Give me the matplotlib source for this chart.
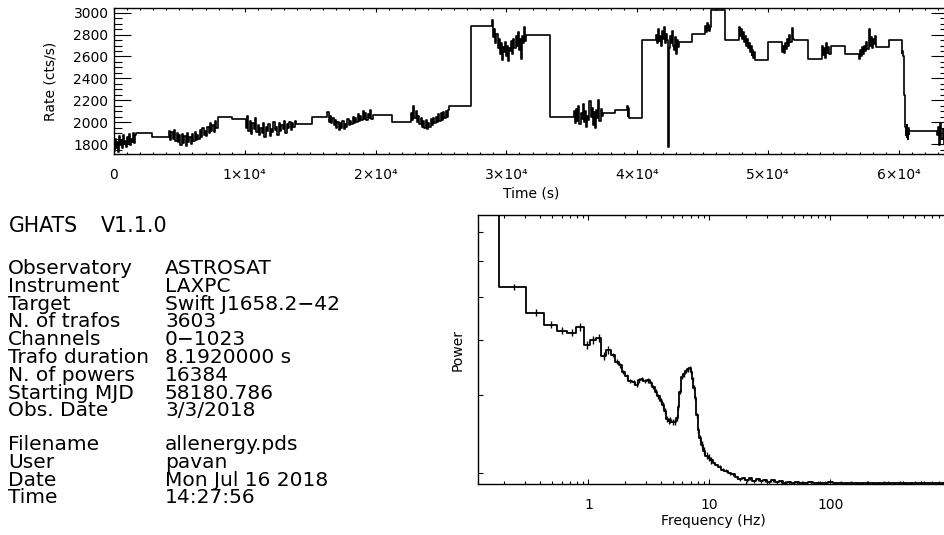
import numpy as np
import matplotlib
matplotlib.use('Agg')
from matplotlib import pyplot as plt
from matplotlib.ticker import MultipleLocator, FixedLocator, NullFormatter, FuncFormatter, LogLocator

# ---- light curve: good time intervals (s) and the rates inside each (cts/s)
seg_start = [0, 4150, 10015, 16260, 22630, 28875, 35115, 39200, 41360,
             45180, 47780, 51000, 54050, 56900, 60200, 62900]
seg_stop = [1735, 7970, 13967, 19825, 25690, 31550, 37410, 39400, 43270,
            45640, 49060, 52010, 54915, 58310, 60800, 63700]
seg_rates = [
    [1780, 1740, 1850, 1760, 1820, 1730, 1870, 1790, 1840, 1760, 1880, 1800,
     1830, 1770, 1860, 1810, 1890, 1790, 1850, 1820, 1900, 1810, 1880, 1903],
    [1862, 1920, 1840, 1910, 1850, 1930, 1830, 1900, 1820, 1880, 1790, 1890,
     1810, 1870, 1780, 1900, 1820, 1860, 1800, 1890, 1830, 1910, 1840, 1880,
     1850, 1930, 1860, 1950, 1880, 1920, 1870, 1960, 1900, 1990, 1920, 1970,
     1910, 2010, 1950, 2044],
    [2026, 1950, 2060, 1920, 2010, 1890, 1990, 1940, 2040, 1910, 1970, 1880,
     1950, 1900, 1990, 1860, 1960, 1920, 1980, 1870, 1940, 1910, 2000, 1930,
     1960, 1880, 1990, 1920, 1970, 1940, 2010, 1900, 1980, 1950, 2000, 1930,
     1990, 1960, 2010, 1983],
    [2049, 2090, 2000, 2060, 1990, 2040, 1970, 2020, 1950, 2000, 1930, 1990,
     1950, 2010, 1940, 1980, 1960, 2030, 1970, 2010, 1980, 2050, 1990, 2040,
     2000, 2070, 2010, 2060, 2020, 2100, 2030, 2080, 2020, 2070, 2040, 2110,
     2030, 2065],
    [2004, 2080, 2020, 2150, 2040, 2100, 2000, 2060, 1980, 2040, 1960, 2010,
     1950, 2020, 1940, 1990, 1960, 2030, 1970, 2040, 1990, 2050, 2000, 2070,
     2010, 2080, 2020, 2090, 2040, 2100, 2050, 2110, 2147],
    [2875, 2930, 2780, 2850, 2720, 2810, 2680, 2760, 2620, 2720, 2570, 2690,
     2640, 2730, 2600, 2700, 2560, 2680, 2650, 2740, 2620, 2760, 2680, 2790,
     2700, 2820, 2660, 2760, 2580, 2790, 2720, 2870, 2740, 2800],
    [2049, 2100, 1990, 2120, 2010, 2150, 1980, 2080, 2030, 2170, 2000, 2100,
     1960, 2060, 2020, 2190, 2050, 2130, 1970, 2090, 1950, 2110, 2040, 2200,
     2010, 2120, 2060, 2080],
    [2110, 2150, 2060, 2130, 2040],
    [2748, 2800, 2720, 2850, 2740, 2790, 2700, 2830, 2760, 2870, 2720, 2810,
     2750, 1776, 2680, 2790, 2720, 2830, 2700, 2660, 2780, 2620, 2750, 2690,
     2733],
    [2809, 2880, 2820, 2910, 2840, 2890, 2830, 2870, 3021],
    [2748, 2870, 2790, 2850, 2760, 2820, 2730, 2790, 2700, 2760, 2680, 2720,
     2640, 2700, 2610, 2660, 2590, 2640, 2566],
    [2733, 2640, 2700, 2630, 2720, 2670, 2760, 2700, 2800, 2730, 2860, 2760,
     2748],
    [2581, 2700, 2610, 2680, 2590, 2720, 2630, 2690, 2620, 2700, 2693],
    [2627, 2580, 2660, 2600, 2690, 2620, 2700, 2650, 2730, 2670, 2850, 2700,
     2780, 2680, 2760, 2710, 2790, 2687],
    [2748, 2660, 2630, 2650, 2610, 2600, 2450, 2250, 2080, 1990, 1960, 1880,
     1940, 1860, 1970, 1900, 1850, 1950, 1890, 1922],
    [1922, 1880, 1960, 1790, 1990, 1850, 1940, 1800, 2040, 1870, 1950],
]

# ---- power density spectrum (Leahy normalised)
freq = [0.122, 0.244, 0.366, 0.488, 0.610, 0.732, 0.854, 0.977, 1.099, 1.221,
        1.343, 1.465, 1.60, 1.72, 1.84, 1.95, 2.08, 2.21, 2.36, 2.51, 2.64,
        2.76, 2.94, 3.13, 3.29, 3.45, 3.62, 3.79, 3.98, 4.17, 4.31, 4.45,
        4.60, 4.74, 4.97, 5.21, 5.38, 5.55, 5.74, 5.92, 6.17, 6.42, 6.67,
        6.93, 7.12, 7.30, 7.46, 7.63, 7.87, 8.12, 8.39, 8.67, 9.08, 9.5,
        9.95, 10.4, 10.95, 11.5, 12.2, 12.9, 13.8, 14.7, 15.7, 16.8, 17.9,
        19.2, 20.5, 21.9, 23.5, 25.2, 27.0, 29.0, 31.2, 33.6, 36.2, 39.0,
        42.0, 45.3, 49, 53, 58, 63, 69, 76, 83, 91, 100, 110, 122, 135, 150,
        166, 184, 204, 226, 250, 277, 307, 340, 377, 418, 463, 513, 569, 631,
        699, 775, 859, 952]
power = [20.0, 5.26, 4.60, 4.32, 4.19, 4.15, 4.27, 3.89, 3.99, 4.03,
         3.68, 3.80, 3.70, 3.57, 3.50, 3.38, 3.31, 3.23, 3.21, 3.17, 3.24,
         3.26, 3.23, 3.24, 3.19, 3.13, 3.05, 2.98, 2.91, 2.85, 2.76, 2.65,
         2.62, 2.64, 2.61, 2.61, 2.66, 2.82, 3.05, 3.30, 3.34, 3.40, 3.43,
         3.45, 3.38, 3.26, 3.12, 2.96, 2.70, 2.50, 2.40, 2.32, 2.25, 2.19,
         2.17, 2.14, 2.11, 2.09, 2.07, 2.04, 2.03, 2.00, 1.99, 1.96, 1.94,
         1.95, 1.93, 1.95, 1.92, 1.94, 1.92, 1.93, 1.91, 1.93, 1.91, 1.92,
         1.905, 1.91, 1.90, 1.91, 1.905, 1.90, 1.91, 1.90, 1.905, 1.90, 1.91,
         1.90, 1.905, 1.90, 1.905, 1.90, 1.90, 1.905, 1.90, 1.90, 1.905,
         1.90, 1.90, 1.905, 1.90, 1.90, 1.90, 1.905, 1.90, 1.90, 1.90, 1.90,
         1.90]
power_err = [0.5] + [0.08] * 11 + [0.04] * 44 + [0.015] * 53

info_keys = ['Observatory', 'Instrument', 'Target', 'N. of trafos', 'Channels',
             'Trafo duration', 'N. of powers', 'Starting MJD', 'Obs. Date']
info_vals = ['ASTROSAT', 'LAXPC', 'Swift J1658.2\u221242', '3603', '0\u22121023',
             '8.1920000 s', '16384', '58180.786', '3/3/2018']
run_keys = ['Filename', 'User', 'Date', 'Time']
run_vals = ['allenergy.pds', 'pavan', 'Mon Jul 16 2018', '14:27:56']

W, H = 944, 535
fig = plt.figure(figsize=(W / 100, H / 100), dpi=100)
fig.patch.set_facecolor('white')


def axes_px(left, top, right, bottom):
    # place an axes from pixel edges
    return fig.add_axes([left / W, 1 - bottom / H, (right - left) / W, (bottom - top) / H])


# light curve panel
ax = axes_px(114, 7.8, 948, 154)
t = np.concatenate([np.linspace(a, b, len(r)) for a, b, r in zip(seg_start, seg_stop, seg_rates)])
rate = np.concatenate([np.asarray(r, float) for r in seg_rates])
ax.step(t, rate, where='mid', color='k', lw=1.2)
ax.set_xlim(0, 63760)
ax.set_ylim(1709, 3045)
ax.xaxis.set_major_locator(MultipleLocator(10000))
ax.xaxis.set_minor_locator(MultipleLocator(1000))
ax.yaxis.set_major_locator(MultipleLocator(200))
ax.yaxis.set_minor_locator(MultipleLocator(50))
ax.xaxis.set_major_formatter(FuncFormatter(
    lambda v, p: '0' if v == 0 else '%d\u00d710\u2074' % round(v / 1e4)))
ax.tick_params(axis='both', which='both', direction='in', top=True, right=True,
               labelsize=10, width=0.8, colors='k')
ax.tick_params(axis='y', which='major', length=11.9, pad=4)
ax.tick_params(axis='y', which='minor', length=6)
ax.tick_params(axis='x', which='major', length=2.6, pad=10)
ax.tick_params(axis='x', which='minor', length=1.4)
ax.set_xlabel('Time (s)', fontsize=10, labelpad=3)
ax.set_ylabel('Rate (cts/s)', fontsize=10, labelpad=11)
for s in ax.spines.values():
    s.set_linewidth(1.0)

# power spectrum panel
ap = axes_px(478, 215, 950, 484.3)
ap.step(freq, power, where='mid', color='k', lw=1.3)
ap.errorbar(freq, power, yerr=power_err, fmt='none', ecolor='k', elinewidth=1.0, capsize=0)
ap.set_xscale('log')
ap.set_yscale('log')
ap.set_xlim(0.122, 980)
ap.set_ylim(1.89, 7.63)
ap.xaxis.set_major_locator(FixedLocator([1, 10, 100]))
ap.xaxis.set_minor_locator(LogLocator(base=10, subs=np.arange(2, 10)))
ap.xaxis.set_major_formatter(FuncFormatter(lambda v, p: '%g' % v))
ap.xaxis.set_minor_formatter(NullFormatter())
ap.yaxis.set_major_locator(FixedLocator([2, 3, 4, 5, 6, 7]))
ap.yaxis.set_minor_locator(FixedLocator([]))
ap.yaxis.set_major_formatter(NullFormatter())
ap.tick_params(axis='both', which='both', direction='in', top=True, right=True,
               labelsize=10, width=0.8, colors='k')
ap.tick_params(axis='x', which='major', length=3.9, pad=10)
ap.tick_params(axis='x', which='minor', length=2.0)
ap.tick_params(axis='y', which='major', length=3.4)
ap.set_xlabel('Frequency (Hz)', fontsize=10, labelpad=3)
ap.set_ylabel('Power', fontsize=10, labelpad=6)
ap.xaxis.set_label_coords((713 - 478) / (950 - 478), -0.11)
for s in ap.spines.values():
    s.set_linewidth(1.0)

# header and observation summary
fig.text(9 / W, 1 - 232 / H, 'GHATS', fontsize=14.8, va='baseline')
fig.text(101 / W, 1 - 232 / H, 'V1.1.0', fontsize=14.8, va='baseline')
row_h = 17.8
for i, (k, v) in enumerate(zip(info_keys, info_vals)):
    y = 1 - (274 + i * row_h) / H
    fig.text(8 / W, y, k, fontsize=14.5, va='baseline')
    fig.text(165 / W, y, v, fontsize=14.5, va='baseline')
for i, (k, v) in enumerate(zip(run_keys, run_vals)):
    y = 1 - (450 + i * row_h) / H
    fig.text(8 / W, y, k, fontsize=14.5, va='baseline')
    fig.text(165 / W, y, v, fontsize=14.5, va='baseline')

fig.savefig('out.png', dpi=100)
